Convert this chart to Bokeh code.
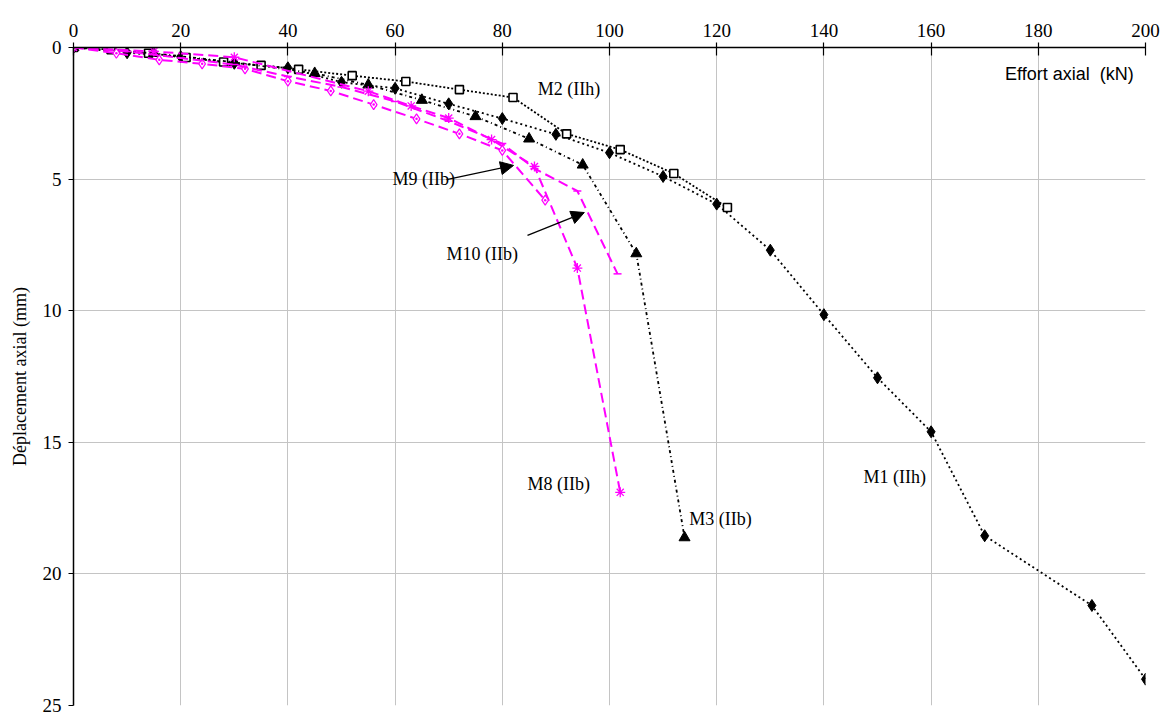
from bokeh.plotting import figure
from bokeh.models import Range1d, Arrow, NormalHead, FixedTicker, Label
from bokeh.embed import file_html
from bokeh.resources import INLINE
from bokeh.core.properties import value

# ---- data (load kN, axial displacement mm) ----
m1_load = [0, 10, 20, 30, 40, 50, 60, 70, 80, 90, 100, 110, 120, 130, 140, 150, 160, 170, 190, 200]
m1_disp = [0, 0.2, 0.35, 0.6, 0.77, 1.32, 1.55, 2.14, 2.7, 3.3, 4.0, 4.9, 5.95, 7.7, 10.15, 12.55, 14.6, 18.55, 21.2, 24.0]

m2_load = [0, 7, 14, 21, 28, 35, 42, 52, 62, 72, 82, 92, 102, 112, 122]
m2_disp = [0, 0.08, 0.22, 0.38, 0.55, 0.68, 0.83, 1.07, 1.29, 1.6, 1.9, 3.28, 3.88, 4.79, 6.08]

m3_load = [0, 15, 30, 45, 55, 65, 75, 85, 95, 105, 114]
m3_disp = [0, 0.22, 0.56, 0.98, 1.42, 2.0, 2.62, 3.47, 4.46, 7.83, 18.62]

m8_load = [0, 15, 30, 55, 63, 70, 78, 86, 94, 102]
m8_disp = [0, 0.15, 0.37, 1.66, 2.22, 2.68, 3.5, 4.52, 8.38, 16.9]

m9_load = [0, 8, 16, 24, 32, 40, 48, 56, 64, 72, 80, 88]
m9_disp = [0, 0.22, 0.47, 0.62, 0.81, 1.28, 1.65, 2.17, 2.71, 3.28, 3.91, 5.8]

m10_load = [0, 10, 20, 30, 40, 50, 60, 70, 80, 86, 94, 101.5]
m10_disp = [0, 0.15, 0.4, 0.65, 1.1, 1.5, 2.05, 2.8, 3.65, 4.6, 5.45, 8.6]

x_ticks = [0, 20, 40, 60, 80, 100, 120, 140, 160, 180, 200]
y_ticks = [0, 5, 10, 15, 20, 25]

label_text = ["M2 (IIh)", "M9 (IIb)", "M10 (IIb)", "M8 (IIb)", "M3 (IIb)", "M1 (IIh)"]
label_x = [86.6, 59.5, 69.6, 84.7, 114.9, 147.4]
label_y = [1.56, 4.98, 7.86, 16.6, 17.9, 16.3]

arrow_x0 = [69.6, 84.7]
arrow_y0 = [5.02, 7.14]
arrow_x1 = [82.1, 95.3]
arrow_y1 = [4.48, 6.27]

BLACK = "black"
MAG = "#FF00FF"
SERIF = "Liberation Serif"

p = figure(frame_width=1072, frame_height=658,
           x_range=Range1d(0, 200), y_range=Range1d(25, 0),
           x_axis_location="above",
           output_backend="svg", toolbar_location=None,
           min_border_left=73, min_border_top=47,
           min_border_right=18, min_border_bottom=12)
p.outline_line_color = None
p.background_fill_color = "white"

for ax in (p.xgrid, p.ygrid):
    ax.grid_line_color = "#c4c4c4"
    ax.grid_line_width = 1

p.xaxis.ticker = FixedTicker(ticks=x_ticks)
p.yaxis.ticker = FixedTicker(ticks=y_ticks)
for ax in (p.xaxis, p.yaxis):
    ax.axis_line_color = "black"
    ax.axis_line_width = 1.5
    ax.major_tick_line_color = "black"
    ax.major_tick_line_width = 1.2
    ax.minor_tick_line_color = None
    ax.major_label_text_font = SERIF
    ax.major_label_text_font_size = "19px"
    ax.major_label_text_color = "black"
p.xaxis.major_tick_in = 8
p.xaxis.major_tick_out = 5
p.xaxis.major_label_standoff = 6
p.yaxis.major_tick_in = 0
p.yaxis.major_tick_out = 5
p.yaxis.major_label_standoff = 7
p.yaxis.axis_label = "Déplacement axial (mm)"
p.yaxis.axis_label_text_font = SERIF
p.yaxis.axis_label_text_font_size = "18px"
p.yaxis.axis_label_text_font_style = "normal"
p.yaxis.axis_label_text_color = "black"
p.yaxis.axis_label_standoff = 10

# black curves
p.line(m1_load, m1_disp, line_color=BLACK, line_width=1.8, line_dash="2 3")
p.scatter(m1_load, m1_disp, marker="diamond", size=12, fill_color=BLACK, line_color=BLACK)

p.line(m2_load, m2_disp, line_color=BLACK, line_width=1.8, line_dash="2 2")
p.scatter(m2_load, m2_disp, marker="square", size=8, fill_color="white", line_color=BLACK, line_width=1.6)

p.line(m3_load, m3_disp, line_color=BLACK, line_width=1.8, line_dash="3 3 1 3")
p.scatter(m3_load, m3_disp, marker="triangle", size=11, fill_color=BLACK, line_color=BLACK)

# magenta curves
p.line(m8_load, m8_disp, line_color=MAG, line_width=2, line_dash="10 5")
p.scatter(m8_load, m8_disp, marker="asterisk", size=10, line_color=MAG, line_width=1.3)

p.line(m9_load, m9_disp, line_color=MAG, line_width=2, line_dash="10 5")
p.scatter(m9_load, m9_disp, marker="diamond_dot", size=10, fill_color="white", line_color=MAG, line_width=1.2)

p.line(m10_load, m10_disp, line_color=MAG, line_width=2, line_dash="10 5")
p.scatter(m10_load, m10_disp, marker="dash", size=8, line_color=MAG, line_width=1.5)

# labels
p.text(x=label_x, y=label_y, text=label_text, text_font=value(SERIF),
       text_font_size="18px", text_align="left", text_baseline="middle", text_color="black")

p.add_layout(Label(x=197.8, y=0.99, text="Effort axial\u00a0 (kN)", text_font="Liberation Sans",
                   text_font_size="18px", text_align="right", text_baseline="middle",
                   text_color="black"))

for xs, ys, xe, ye in zip(arrow_x0, arrow_y0, arrow_x1, arrow_y1):
    p.add_layout(Arrow(end=NormalHead(size=13, fill_color="black", line_color="black"),
                       x_start=xs, y_start=ys, x_end=xe, y_end=ye,
                       line_color="black", line_width=1.3))

open("out.html", "w").write(file_html(p, INLINE))
